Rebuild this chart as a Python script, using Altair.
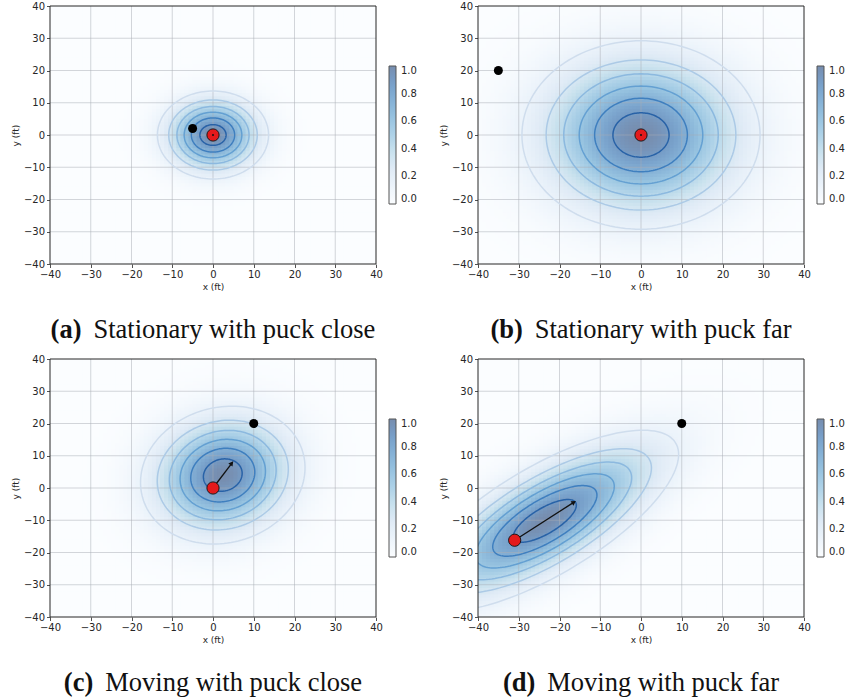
import math
import numpy as np
import pandas as pd
import altair as alt

# ---------------- data ----------------
TICKS = [-40, -30, -20, -10, 0, 10, 20, 30, 40]
CBAR_TICKS = [0.0, 0.2, 0.4, 0.6, 0.8, 1.0]
LABELS = ["(a)", "(b)", "(c)", "(d)"]
CAPTIONS = ["Stationary with puck close", "Stationary with puck far",
            "Moving with puck close", "Moving with puck far"]
PLAYER_X = [0.0, 0.0, 0.0, -31.0]
PLAYER_Y = [0.0, 0.0, 0.0, -16.2]
VEL_X = [0.0, 0.0, 4.8, 14.8]
VEL_Y = [0.0, 0.0, 8.0, 12.0]
PUCK_X = [-5.0, -35.0, 10.0, 10.0]
PUCK_Y = [2.0, 20.0, 20.0, 20.0]
MEAN_X = [0.0, 0.0, 2.4, -23.6]
MEAN_Y = [0.0, 0.0, 4.0, -10.2]
SIGMA_MAJOR = [7.0, 15.0, 11.3, 20.7]
SIGMA_MINOR = [7.0, 15.0, 10.0, 8.0]
ROTATION_DEG = [0.0, 0.0, 59.0, 39.0]
LEVELS = [0.15, 0.30, 0.45, 0.60, 0.75, 0.90]

# ---------------- style ----------------
W, H = 326, 258
CELL = 1.0
OVERLAP = 0.3
BLUES = ["#f7fbff", "#deebf7", "#c6dbef", "#9ecae1", "#6baed6",
         "#4292c6", "#2171b5", "#08519c", "#08306b"]
ALPHA = 0.55
CONTOUR_COLORS = ["#cfdded", "#accae6", "#8cb9df", "#64a0d2", "#3f7fbf", "#2862a7"]
FONT = "DejaVu Sans"
INK = "#262626"
CAP_FONT = "Liberation Serif"
CAP_SIZE = 26.5


def blend(hexc, a):
    r, g, b = (int(hexc[k:k + 2], 16) for k in (1, 3, 5))
    f = lambda c: int(round(255 * (1 - a) + c * a))
    return "#%02x%02x%02x" % (f(r), f(g), f(b))


FILL_RANGE = [blend(c, ALPHA) for c in BLUES]
FILL_DOMAIN = [k / 8 for k in range(9)]

TIMES = {' ': 250, '(': 333, ')': 333, 'a': 444, 'b': 500, 'c': 444, 'd': 500,
         'e': 444, 'f': 333, 'g': 500, 'h': 500, 'i': 278, 'k': 500, 'l': 278,
         'M': 889, 'n': 500, 'o': 500, 'p': 500, 'r': 333, 's': 389, 'S': 556,
         't': 278, 'u': 500, 'v': 500, 'w': 722, 'y': 500}
TIMES_BOLD = {'(': 333, ')': 333, 'a': 500, 'b': 556, 'c': 444, 'd': 556}


def twidth(s, table):
    return sum(table.get(ch, 500) for ch in s) * CAP_SIZE / 1000.0


def rot(i):
    th = math.radians(ROTATION_DEG[i])
    return math.cos(th), math.sin(th)


def heat_df(i):
    c, s = rot(i)
    centers = np.arange(-40 + CELL / 2, 40, CELL)
    X, Y = np.meshgrid(centers, centers, indexing="ij")
    dx, dy = X - MEAN_X[i], Y - MEAN_Y[i]
    u = dx * c + dy * s
    w = -dx * s + dy * c
    v = np.exp(-0.5 * (u ** 2 / SIGMA_MAJOR[i] ** 2 + w ** 2 / SIGMA_MINOR[i] ** 2))
    X, Y, v = X.ravel(), Y.ravel(), v.ravel()
    return pd.DataFrame({"x0": X - CELL / 2, "x1": X + CELL / 2 + OVERLAP,
                         "y0": Y - CELL / 2, "y1": Y + CELL / 2 + OVERLAP,
                         "v": np.round(v, 4)})


def contour_df(i):
    c, s = rot(i)
    t = np.linspace(0, 2 * np.pi, 145)
    rows = []
    for k, L in enumerate(LEVELS):
        r = math.sqrt(-2 * math.log(L))
        a = SIGMA_MAJOR[i] * r * np.cos(t)
        b = SIGMA_MINOR[i] * r * np.sin(t)
        xs = MEAN_X[i] + a * c - b * s
        ys = MEAN_Y[i] + a * s + b * c
        for j in range(len(t)):
            rows.append({"x": xs[j], "y": ys[j], "lvl": k, "k": j,
                         "col": CONTOUR_COLORS[k]})
    return pd.DataFrame(rows)


def panel(i):
    xs = alt.Scale(domain=[-40, 40], nice=False, zero=False)
    ys = alt.Scale(domain=[-40, 40], nice=False, zero=False)
    xaxis = alt.Axis(values=TICKS, title="x (ft)", format="d", labelFlush=False,
                     labelOverlap=False)
    yaxis = alt.Axis(values=TICKS, title="y (ft)", format="d", labelFlush=False,
                     labelOverlap=False)

    def XE(f):
        return alt.X(f, scale=xs, axis=xaxis, title="x (ft)")

    def YE(f):
        return alt.Y(f, scale=ys, axis=yaxis, title="y (ft)")

    legend = alt.Legend(title=None, orient="none", legendX=W + 13, legendY=60,
                        direction="vertical", gradientLength=138, gradientThickness=7,
                        values=CBAR_TICKS, format=".1f", labelFont=FONT,
                        labelFontSize=10, labelColor=INK, labelOffset=5,
                        gradientStrokeColor="#555555", gradientStrokeWidth=1)

    heat = alt.Chart(heat_df(i)).mark_rect(clip=True, strokeWidth=0).encode(
        x=XE("x0:Q"), x2="x1:Q", y=YE("y0:Q"), y2="y1:Q",
        fill=alt.Fill("v:Q", scale=alt.Scale(domain=FILL_DOMAIN, range=FILL_RANGE,
                                             interpolate="rgb", clamp=True),
                      legend=legend))

    gdf = pd.DataFrame({"t": TICKS[1:-1]})
    gridv = alt.Chart(gdf).mark_rule(color="#a9adb5", strokeWidth=1, opacity=0.5).encode(
        x=XE("t:Q"))
    gridh = alt.Chart(gdf).mark_rule(color="#a9adb5", strokeWidth=1, opacity=0.5).encode(
        y=YE("t:Q"))

    cont = alt.Chart(contour_df(i)).mark_line(clip=True, strokeWidth=1.5).encode(
        x=XE("x:Q"), y=YE("y:Q"),
        detail="lvl:N", order="k:Q", stroke=alt.Stroke("col:N", scale=None))

    layers = [heat, gridv, gridh, cont]

    px, py = PLAYER_X[i], PLAYER_Y[i]
    vx, vy = VEL_X[i], VEL_Y[i]
    if vx != 0 or vy != 0:
        tx, ty = px + vx, py + vy
        dxp, dyp = vx * W / 80.0, vy * H / 80.0
        ln = math.hypot(dxp, dyp)
        ang = math.degrees(math.atan2(dxp, dyp)) % 360
        back = 2.0
        hx = tx - dxp / ln * back * 80.0 / W
        hy = ty - dyp / ln * back * 80.0 / H
        adf = pd.DataFrame({"x": [px, hx], "y": [py, hy], "k": [0, 1]})
        arrow = alt.Chart(adf).mark_line(color="#111111", strokeWidth=1.3).encode(
            x=XE("x:Q"), y=YE("y:Q"), order="k:Q")
        hdf = pd.DataFrame({"x": [hx], "y": [hy]})
        head = alt.Chart(hdf).mark_point(shape="triangle", filled=True, size=28,
                                         color="#111111", opacity=1,
                                         angle=ang).encode(x=XE("x:Q"), y=YE("y:Q"))
        layers += [arrow, head]

    puck = alt.Chart(pd.DataFrame({"x": [PUCK_X[i]], "y": [PUCK_Y[i]]})).mark_point(
        shape="circle", filled=True, size=81, color="#000000", opacity=1).encode(
        x=XE("x:Q"), y=YE("y:Q"))
    player = alt.Chart(pd.DataFrame({"x": [px], "y": [py]})).mark_point(
        shape="circle", filled=True, size=150, fill="#e31a1c", stroke="#111111",
        strokeWidth=0.9, opacity=1).encode(x=XE("x:Q"), y=YE("y:Q"))
    layers += [puck, player]
    if vx == 0 and vy == 0:
        dot = alt.Chart(pd.DataFrame({"x": [px], "y": [py]})).mark_point(
            shape="circle", filled=True, size=4, color="#111111", opacity=1).encode(
            x=XE("x:Q"), y=YE("y:Q"))
        layers.append(dot)

    # frame (spines) on top of everything
    edf = pd.DataFrame({"t": [TICKS[0], TICKS[-1]]})
    framev = alt.Chart(edf).mark_rule(color=INK, strokeWidth=1).encode(x=XE("t:Q"))
    frameh = alt.Chart(edf).mark_rule(color=INK, strokeWidth=1).encode(y=YE("t:Q"))
    layers += [framev, frameh]

    lab_w = twidth(LABELS[i], TIMES_BOLD)
    txt_w = twidth(CAPTIONS[i], TIMES)
    gap = 12
    start = W / 2 - (lab_w + gap + txt_w) / 2
    cdf = pd.DataFrame({"lab": [LABELS[i]], "cap": [CAPTIONS[i]]})
    lab = alt.Chart(cdf).mark_text(font=CAP_FONT, fontSize=CAP_SIZE, fontWeight="bold",
                                   align="left", baseline="alphabetic", color="#111111").encode(
        x=alt.value(start), y=alt.value(H + 74), text="lab:N")
    cap = alt.Chart(cdf).mark_text(font=CAP_FONT, fontSize=CAP_SIZE, align="left",
                                   baseline="alphabetic", color="#111111").encode(
        x=alt.value(start + lab_w + gap), y=alt.value(H + 74), text="cap:N")
    layers += [lab, cap]

    return alt.layer(*layers).properties(width=W, height=H)


row1 = alt.hconcat(panel(0), panel(1), spacing=22).resolve_scale(fill="independent").resolve_legend(fill="independent")
row2 = alt.hconcat(panel(2), panel(3), spacing=22).resolve_scale(fill="independent").resolve_legend(fill="independent")
chart = alt.vconcat(row1, row2, spacing=10).resolve_scale(fill="independent").resolve_legend(
    fill="independent").properties(
    padding={"left": 11, "top": 1, "right": 0, "bottom": 0}, background="white"
).configure_view(stroke="transparent", strokeWidth=0).configure_axis(
    labelFont=FONT, labelFontSize=10, labelColor=INK, titleFont=FONT, titleFontSize=9,
    titleFontWeight="normal", titleColor=INK, tickColor=INK, tickSize=3.5, tickWidth=0.8,
    domain=False, grid=False, labelPadding=2, titlePadding=3)

chart.save("out.html", embed_options={"renderer": "svg", "actions": False})
